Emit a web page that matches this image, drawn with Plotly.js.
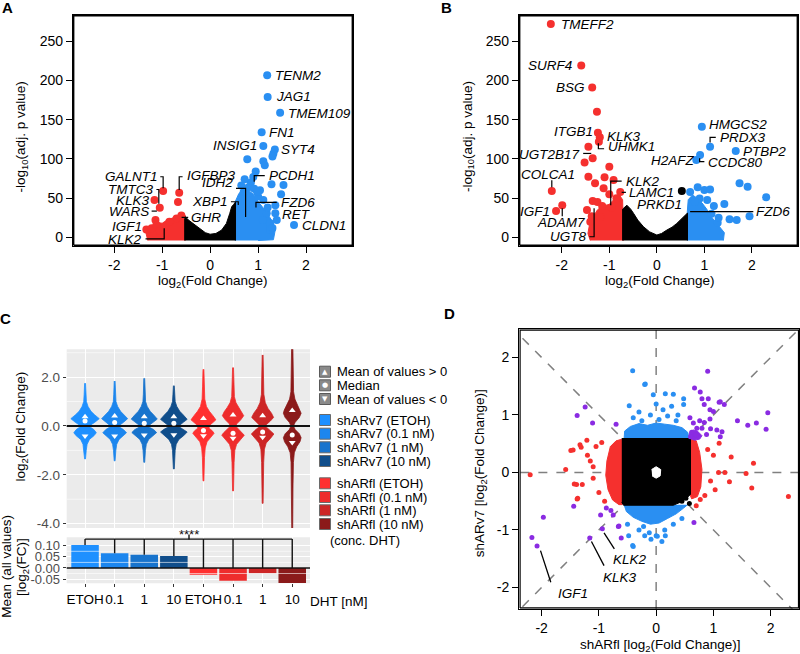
<!DOCTYPE html>
<html><head><meta charset="utf-8">
<script src="https://cdn.plot.ly/plotly-3.0.1.min.js"></script>
<style>html,body{margin:0;padding:0;background:#fff}#chart{width:800px;height:654px}</style>
</head><body><div id="chart"></div>
<script>
// ================= DATA =================
// ---- Panel A (volcano, shARv7) ----
const aUpX = [1.19,1.2,1.46,1.075,1.11,1.35,1.32,1.30,0.775,1.11,1.14,0.95,1.28,1.53,1.48,1.36,1.36,1.39,1.75,1.25,1.18,1.11,1.04,0.9,0.85,0.72,0.65,0.8,1.0,1.2,1.25,1.1,1.3,0.92,0.98,0.7];
const aUpY = [206.6,179,159,134,116.5,112,107,103,99.5,97,92,84,67.6,66.7,55,41,30.6,22,15.7,9.3,30.6,47.6,60,77,70,74,66,64,52,38,18,22,12,62,58,58];
const aDownX = [-0.98,-0.645,-0.67,-1.16,-1.05,-1.14,-1.33,-1.22,-1.12,-0.94,-1.05,-0.85,-0.7,-0.6];
const aDownY = [59,57,45,47.6,37.8,22,10,11.5,15.7,13.5,8,20,24,28];
const aBlackCloudX = [-0.53,-0.53,-0.45,-0.32,-0.21,-0.1,0,0.12,0.24,0.34,0.41,0.45,0.49,0.53,0.53];
const aBlackCloudY = [-4,27,22,16,11.5,6,4,5,9.3,17.8,30.6,39,42,45,-4];
const aRedCloudX = [-1.3,-1.34,-1.3,-1.2,-1.1,-1.0,-0.9,-0.77,-0.63,-0.52,-0.52];
const aRedCloudY = [-4,6,12,16,19,18,22,25,29,28,-4];
const aBlueCloudX = [0.52,0.52,0.6,0.7,0.8,0.9,1.0,1.1,1.2,1.3,1.36,1.32,1.0];
const aBlueCloudY = [-4,45,56,62,60,55,46,38,30,20,10,-3,-4];
const aLabText = ['TENM2','JAG1','TMEM109','FN1','INSIG1','SYT4','PCDH1','FZD6','RET','CLDN1','IDH2','XBP1','GALNT1','IGFBP3','TMTC3','KLK3','WARS','IGF1','KLK2','GHR'];
const aLabX = [1.32,1.34,1.58,1.19,1.025,1.44,1.18,1.44,1.46,1.875,0.518,0.413,-1.048,-0.526,-1.146,-1.22,-1.24,-1.376,-1.376,-0.436];
const aLabY = [206.6,179,158.5,134,116.5,112,78.6,44.6,29.7,14.8,70,45.4,77.3,78.6,61.2,47.6,33.5,13.5,-2.5,25.5];
const aLabSide = ['l','l','l','l','r','l','l','l','l','l','r','r','r','l','r','r','r','r','r','l'];
const aLeadX = [0.92,0.92,1.14,null,0.956,0.956,1.39,null,0.54,0.74,0.74,null,0.434,0.587,0.587,null,-1.04,-0.98,-0.98,null,-0.645,-0.645,-0.574,null,-1.12,-1.07,-1.07,null,-1.22,-1.11,null,-1.347,-0.958,-0.958,null,-0.595,-0.457];
const aLeadY = [71,78.6,78.6,null,38,44.6,44.6,null,62.5,62.5,26,null,45.4,45.4,41.2,null,77.3,77.3,62.5,null,60.3,77.3,77.3,null,61,61,43,null,33.5,33.5,null,-1.8,-1.8,11.5,null,25.5,25.5];

// ---- Panel B (volcano, shARfl) ----
const bDownX = [-2.23,-1.59,-1.36,-1.26,-1.24,-1.2,-1.22,-1.44,-1.35,-1.52,-1.0,-1.44,-1.10,-0.91,-1.3,-1.12,-2.21,-0.77,-1.35,-2.12,-1.99,-1.47,-1.37,-1.40,-1.19,-1.0,-0.85,-1.25,-1.15,-0.95];
const bDownY = [272,219,191,160,133.5,127.5,122,115.6,101,95.6,90,77.3,76.5,73,69,62.5,59,58,46.3,33.5,40.8,34.8,27,20,26,55,50,45,40,38];
const bUpX = [0.947,1.12,1.66,0.91,0.83,1.74,1.91,2.30,1.42,1.95,1.53,1.68,1.28,0.86,1.0,1.12,0.70,1.06,0.9,1.2,1.15,1.3,0.8];
const bUpY = [141,115.6,110,105,98.5,69,64.5,51,42.5,26.8,23,22,18.6,63.8,60.3,61,58,47.6,49.7,40,30,25,45];
const bNsX = [0.526];
const bNsY = [59];
const bBlackCloudX = [-0.72,-0.72,-0.63,-0.55,-0.49,-0.4,-0.28,-0.15,0,0.1,0.21,0.32,0.42,0.56,0.645,0.645];
const bBlackCloudY = [-4,36,41,36,30.6,22,13.5,7,3,5,9.3,13,17.8,26,31,-4];
const bRedCloudX = [-1.4,-1.45,-1.42,-1.35,-1.25,-1.15,-1.0,-0.9,-0.8,-0.72,-0.7];
const bRedCloudY = [-4,5,15,25,35,40,42,48,55,48,-4];
const bBlueCloudX = [0.64,0.64,0.66,0.75,0.85,0.95,1.05,1.15,1.3,1.42,1.4];
const bBlueCloudY = [-4,32,48,54,50,44,36,26,15,6,-4];
const bLabText = ['TMEFF2','SURF4','BSG','ITGB1','KLK3','UHMK1','UGT2B17','COLCA1','IGF1','ADAM7','UGT8','KLK2','LAMC1','PRKD1','HMGCS2','PRDX3','PTBP2','H2AFZ','CCDC80','FZD6'];
const bLabX = [-2.05,-1.74,-1.47,-1.31,-1.09,-1.07,-1.58,-2.28,-2.21,-1.47,-1.44,-0.70,-0.63,-0.457,1.05,1.28,1.77,0.84,1.04,2.05];
const bLabY = [272,219,191,134.7,128.3,115.6,105.8,80.7,33.5,18.6,0.8,71.8,57.4,42.5,144,127.5,110,98.5,95,32.7];
const bLabSide = ['l','r','r','r','l','l','r','c','r','r','r','l','l','l','l','l','l','r','l','l'];
const bLeadX = [-2.21,-2.21,null,-1.99,-1.99,null,-1.42,-1.32,-1.32,null,-1.55,-1.38,null,-1.23,-1.23,-1.11,null,-0.97,-0.97,-0.74,null,-0.74,-0.65,null,1.12,1.12,1.24,null,0.9,0.9,1.0,null,0.70,2.03];
const bLeadY = [64,72.7,null,37,27,null,0.8,0.8,37,null,107,107,null,120,113,113,null,41,71.8,71.8,null,57.4,57.4,null,121,127.5,127.5,null,101,96.5,96.5,null,32.7,32.7];

// ---- Panel C (violins + mean bars) ----
const condLabels = ['ETOH','0.1','1','10','ETOH','0.1','1','10'];
const condNames = ['shARv7 (ETOH)','shARv7 (0.1 nM)','shARv7 (1 nM)','shARv7 (10 nM)','shARfl (ETOH)','shARfl (0.1 nM)','shARfl (1 nM)','shARfl (10 nM)'];
const condColors = ['#1e90ff','#1c86ee','#1874cd','#104e8b','#ff3030','#ee2c2c','#cd2626','#8b1a1a'];
// violin outlines: [log2FC, half width]
const vio1 = [[1.75,0.015],[1.3,0.03],[1.0,0.045],[0.8,0.1],[0.6,0.2],[0.45,0.33],[0.3,0.48],[0.15,0.33],[0.03,0.18],[-0.05,0.18],[-0.15,0.3],[-0.28,0.38],[-0.4,0.3],[-0.55,0.15],[-0.75,0.07],[-1.0,0.04],[-1.35,0.015]];
const vio2 = [[1.84,0.015],[1.3,0.03],[1.0,0.045],[0.8,0.1],[0.6,0.2],[0.45,0.32],[0.3,0.44],[0.15,0.3],[0.03,0.17],[-0.05,0.17],[-0.15,0.3],[-0.28,0.4],[-0.4,0.3],[-0.55,0.15],[-0.75,0.07],[-1.0,0.04],[-1.43,0.015]];
const vio3 = [[1.95,0.015],[1.3,0.03],[1.0,0.045],[0.8,0.1],[0.6,0.2],[0.45,0.32],[0.28,0.44],[0.15,0.3],[0.03,0.17],[-0.05,0.17],[-0.15,0.32],[-0.27,0.42],[-0.4,0.3],[-0.55,0.15],[-0.75,0.07],[-1.0,0.04],[-1.49,0.015]];
const vio4 = [[1.65,0.015],[1.3,0.03],[1.0,0.045],[0.8,0.1],[0.6,0.2],[0.45,0.32],[0.27,0.45],[0.15,0.32],[0.03,0.2],[-0.05,0.2],[-0.15,0.35],[-0.25,0.45],[-0.4,0.33],[-0.55,0.17],[-0.75,0.08],[-1.0,0.045],[-1.76,0.015]];
const vio5 = [[2.32,0.015],[1.6,0.03],[1.1,0.045],[0.8,0.1],[0.6,0.2],[0.42,0.32],[0.25,0.42],[0.12,0.3],[0.0,0.18],[-0.1,0.2],[-0.2,0.3],[-0.3,0.36],[-0.45,0.26],[-0.65,0.12],[-0.9,0.06],[-1.3,0.035],[-2.25,0.015]];
const vio6 = [[2.39,0.015],[1.6,0.03],[1.2,0.045],[0.95,0.1],[0.75,0.2],[0.58,0.3],[0.42,0.36],[0.25,0.26],[0.08,0.12],[-0.02,0.1],[-0.15,0.2],[-0.28,0.32],[-0.38,0.38],[-0.55,0.26],[-0.75,0.12],[-1.0,0.06],[-1.5,0.035],[-2.66,0.015]];
const vio7 = [[2.91,0.015],[2.0,0.03],[1.3,0.04],[0.95,0.09],[0.72,0.18],[0.52,0.3],[0.35,0.37],[0.2,0.26],[0.06,0.13],[-0.04,0.12],[-0.18,0.26],[-0.33,0.38],[-0.5,0.27],[-0.7,0.12],[-0.95,0.06],[-1.5,0.035],[-3.17,0.015]];
const vio8 = [[3.3,0.02],[2.0,0.03],[1.4,0.045],[1.1,0.09],[0.85,0.18],[0.65,0.27],[0.52,0.3],[0.35,0.24],[0.15,0.1],[0.0,0.04],[-0.15,0.1],[-0.32,0.24],[-0.48,0.3],[-0.65,0.26],[-0.85,0.15],[-1.1,0.07],[-1.5,0.04],[-2.5,0.025],[-4.3,0.015]];
const vioMeanPos = [0.38,0.41,0.38,0.38,0.31,0.45,0.42,0.63];
const vioMedian = [0.2,0.14,0.11,0.11,-0.19,-0.30,-0.25,-0.37];
const vioMeanNeg = [-0.41,-0.41,-0.37,-0.36,-0.40,-0.50,-0.46,-0.68];
const barMeans = [0.103,0.066,0.060,0.054,-0.030,-0.057,-0.024,-0.068];
const vioTicks = [-4,-2,0,2];
const vioTickText = ['-4.0','-2.0','0.0','2.0'];
const vioGrid = [-3,-1,1,3];
const barTicks = [-0.05,0,0.05,0.10];
const barTickText = ['-0.05','0.00','0.05','0.10'];
const barGrid = [-0.025,0.025,0.075];
const legendStats = ['Mean of values > 0','Median','Mean of values < 0'];

// ---- Panel D (shARfl vs shARv7) ----
const dBlueX = [-0.41,-0.2,-0.47,-0.05,0.16,0.30,0.48,0.27,0,0.12,0.48,-0.19,-0.3,0.38,-0.1,0.2,-0.4,0.05,-0.25,0.35,-0.40,-0.09,0,0.16,-0.48,-0.41,0.02,-0.12,-0.22,0.15,0.3,-0.3,0.45,-0.5,0.1,-0.2];
const dBlueY = [1.77,1.53,1.16,1.35,1.37,1.36,1.28,1.15,1.19,1.09,1.18,1.54,1.05,1.0,1.0,0.98,0.95,0.92,0.9,0.9,-1.29,-1.16,-1.1,-1.1,-1.1,-1.27,-1.11,-1.05,-0.94,-1.0,-0.9,-1.0,-0.8,-0.9,-1.2,-1.1];
const dRedX = [-2.2,2.31,1.70,1.67,1.31,1.28,1.09,1.20,1.57,-1.45,-1.58,-1.43,-1.38,-1.21,-1.33,-1.31,-1.49,-1.39,-1.29,-1.37,1.1,1.03,0.77,0.70,-1.15,-1.1,-1.2,-1.05,-1.0,1.0,0.95,0.9,0.85,-1.1,-0.95,-0.9];
const dRedY = [-0.04,-0.42,0.16,-0.27,0.27,-0.16,0.0,0.0,-0.02,0.39,0.05,-0.2,-0.46,0.56,0.48,0.44,0.38,-0.21,-0.21,-0.45,0.51,-0.3,-0.47,-0.58,0.2,-0.1,0.3,0.45,-0.35,0.3,-0.15,0.4,-0.4,0.1,0.52,-0.5];
const dBothX = [-1.38,-1.24,-1.11,-0.70,-1.97,-2.17,-2.08,-1.16,-0.94,-0.66,-0.61,-1.44,-0.97,-0.87,-0.79,-0.75,-0.65,1.95,1.92,1.75,1.6,1.42,0.90,0.67,0.77,0.80,0.91,1.10,1.19,1.12,0.84,0.94,1.0,0.94,0.59,0.65,0.76,0.84,0.71,0.80,0.95,1.06,1.15,1.12,0.88,0.66,0.62,0.7,0.6];
const dBothY = [0.99,1.14,0.86,0.84,-0.78,-1.13,-1.28,-1.14,-0.98,-0.94,-1.14,-0.59,-0.74,-0.62,-0.66,-0.74,-0.93,1.04,0.75,0.86,0.82,0.9,1.76,1.47,1.40,1.28,1.28,1.22,1.18,1.23,1.18,1.09,1.06,0.93,0.95,0.86,0.9,0.87,0.77,0.77,0.76,0.74,0.71,0.62,0.66,-0.87,0.7,0.65,0.62];
const dNsX = [0.58,0.48,0.45,0.52];
const dNsY = [-0.54,-0.36,-0.5,-0.45];
const dNsCloudX = [-0.6,0.6,0.6,0.52,0.42,0.3,-0.57,-0.6];
const dNsCloudY = [0.59,0.59,-0.38,-0.46,-0.52,-0.57,-0.57,-0.52];
const dHoleX = [-0.08,0.0,0.08,0.07,0.0,-0.07];
const dHoleY = [0.05,0.1,0.05,-0.06,-0.1,-0.06];
const dBlueTopX = [-0.56,-0.55,-0.45,-0.3,-0.15,0,0.15,0.3,0.45,0.55,0.58];
const dBlueTopY = [0.58,0.72,0.8,0.85,0.82,0.86,0.84,0.82,0.78,0.7,0.58];
const dBlueBotX = [-0.56,-0.52,-0.4,-0.25,-0.1,0.05,0.2,0.35,0.48,0.55];
const dBlueBotY = [-0.56,-0.68,-0.78,-0.85,-0.9,-0.88,-0.8,-0.72,-0.62,-0.56];
const dRedLeftX = [-0.59,-0.7,-0.8,-0.86,-0.88,-0.84,-0.76,-0.65,-0.59];
const dRedLeftY = [0.58,0.55,0.45,0.2,-0.05,-0.3,-0.48,-0.56,-0.56];
const dRedRightX = [0.59,0.7,0.76,0.8,0.78,0.72,0.62,0.59];
const dRedRightY = [0.58,0.55,0.35,0.05,-0.25,-0.42,-0.46,-0.38];
const dBothCornerX = [0.58,0.58,0.64,0.72,0.8,0.76,0.66];
const dBothCornerY = [0.58,0.68,0.74,0.72,0.64,0.58,0.56];
const dRefSpan = [-3,3];
const dZero = [0,0];
const dLabText = ['IGF1','KLK3','KLK2'];
const dLabX = [-1.45,-0.63,-0.45];
const dLabY = [-2.1,-1.83,-1.52];
const dLeadX = [-2.02,-1.84,null,-1.13,-0.91,null,-0.91,-0.73];
const dLeadY = [-1.36,-1.91,null,-1.2,-1.62,null,-1.05,-1.33];
const ticksFC = [-2,-1,0,1,2];
const ticksFCText = ['-2','-1','0','1','2'];
const ticksP = [0,50,100,150,200,250];

// ================= BUILD =================
const W = 800, H = 654;
const px = v => v / W, py = v => 1 - v / H;
const FONT = 'Liberation Sans';
const BLUE = '#2a8ff2', RED = '#f5302e', PURPLE = '#8a2be2';
const traces = [];
const annotations = [];
const shapes = [];

function cloud(x, y, color, xa, ya) {
  traces.push({type:'scatter', mode:'lines', x:x, y:y, fill:'toself', fillcolor:color,
    line:{color:color, width:1}, xaxis:xa, yaxis:ya, hoverinfo:'skip', showlegend:false});
}
function points(x, y, color, size, xa, ya) {
  traces.push({type:'scatter', mode:'markers', x:x, y:y, marker:{color:color, size:size},
    xaxis:xa, yaxis:ya, hoverinfo:'skip', showlegend:false});
}
function leaders(x, y, xa, ya, w) {
  traces.push({type:'scatter', mode:'lines', x:x, y:y, line:{color:'#000', width:w||1.2},
    xaxis:xa, yaxis:ya, hoverinfo:'skip', showlegend:false});
}
function labels(text, x, y, side, xa, ya) {
  text.forEach((t, i) => annotations.push({text:'<i>' + t + '</i>', x:x[i], y:y[i], xref:xa, yref:ya,
    showarrow:false, xanchor: side[i] === 'l' ? 'left' : (side[i] === 'r' ? 'right' : 'center'),
    yanchor:'middle', font:{family:FONT, size:13.5, color:'#000'}}));
}
function note(text, x, y, opts) {
  annotations.push(Object.assign({text:text, x:px(x), y:py(y), xref:'paper', yref:'paper',
    showarrow:false, xanchor:'center', yanchor:'middle', font:{family:FONT, size:13.5, color:'#000'}}, opts || {}));
}
function hline(xa, ya, vals, color, width) {
  const xs = [], ys = [];
  vals.forEach(v => { xs.push(-10, 10, null); ys.push(v, v, null); });
  traces.push({type:'scatter', mode:'lines', x:xs, y:ys, xaxis:xa, yaxis:ya,
    line:{color:color, width:width}, hoverinfo:'skip', showlegend:false});
}

// Panel A
cloud(aRedCloudX, aRedCloudY, RED, 'x', 'y');
cloud(aBlueCloudX, aBlueCloudY, BLUE, 'x', 'y');
cloud(aBlackCloudX, aBlackCloudY, '#000', 'x', 'y');
points(aUpX, aUpY, BLUE, 8, 'x', 'y');
points(aDownX, aDownY, RED, 8, 'x', 'y');
leaders(aLeadX, aLeadY, 'x', 'y');
labels(aLabText, aLabX, aLabY, aLabSide, 'x', 'y');

// Panel B
cloud(bRedCloudX, bRedCloudY, RED, 'x2', 'y2');
cloud(bBlueCloudX, bBlueCloudY, BLUE, 'x2', 'y2');
cloud(bBlackCloudX, bBlackCloudY, '#000', 'x2', 'y2');
points(bUpX, bUpY, BLUE, 8, 'x2', 'y2');
points(bDownX, bDownY, RED, 8, 'x2', 'y2');
points(bNsX, bNsY, '#000', 8, 'x2', 'y2');
leaders(bLeadX, bLeadY, 'x2', 'y2');
labels(bLabText, bLabX, bLabY, bLabSide, 'x2', 'y2');

// Panel C
hline('x3', 'y3', vioGrid, '#fff', 0.6);
hline('x4', 'y4', barGrid, '#fff', 0.6);
const vios = [vio1, vio2, vio3, vio4, vio5, vio6, vio7, vio8];
vios.forEach((prof, i) => {
  const xs = [], ys = [];
  prof.forEach(p => { xs.push(i + p[1]); ys.push(p[0]); });
  prof.slice().reverse().forEach(p => { xs.push(i - p[1]); ys.push(p[0]); });
  traces.push({type:'scatter', mode:'lines', x:xs, y:ys, fill:'toself', fillcolor:condColors[i],
    line:{color:condColors[i], width:0.8}, xaxis:'x3', yaxis:'y3', hoverinfo:'skip', showlegend:false});
});
hline('x3', 'y3', [0], '#111', 2);
const cats = condLabels.map((_, i) => i);
traces.push({type:'scatter', mode:'markers', x:cats, y:vioMeanPos, xaxis:'x3', yaxis:'y3',
  marker:{symbol:'triangle-up', size:6, color:'#fff'}, hoverinfo:'skip', showlegend:false});
traces.push({type:'scatter', mode:'markers', x:cats, y:vioMedian, xaxis:'x3', yaxis:'y3',
  marker:{symbol:'circle', size:5, color:'#fff'}, hoverinfo:'skip', showlegend:false});
traces.push({type:'scatter', mode:'markers', x:cats, y:vioMeanNeg, xaxis:'x3', yaxis:'y3',
  marker:{symbol:'triangle-down', size:6, color:'#fff'}, hoverinfo:'skip', showlegend:false});
traces.push({type:'bar', x:cats, y:barMeans, width:0.93, xaxis:'x4', yaxis:'y4',
  marker:{color:condColors}, hoverinfo:'skip', showlegend:false});
hline('x4', 'y4', [0], '#111', 1.6);
const bracketLevel = 0.13;
const brX = [cats[0], cats[cats.length - 1], null], brY = [bracketLevel, bracketLevel, null];
barMeans.forEach((v, i) => { brX.push(i, i, null); brY.push(bracketLevel, Math.max(v, 0), null); });
traces.push({type:'scatter', mode:'lines', x:brX, y:brY, xaxis:'x4', yaxis:'y4',
  line:{color:'#111', width:1.4}, hoverinfo:'skip', showlegend:false});

// Panel D
[[dRefSpan, dZero], [dZero, dRefSpan], [dRefSpan, dRefSpan], [dRefSpan, dRefSpan.slice().reverse()]].forEach(l => {
  traces.push({type:'scatter', mode:'lines', x:l[0], y:l[1], xaxis:'x5', yaxis:'y5',
    line:{color:'#808080', width:1.5, dash:'dash'}, hoverinfo:'skip', showlegend:false});
});
cloud(dRedLeftX, dRedLeftY, RED, 'x5', 'y5');
cloud(dRedRightX, dRedRightY, RED, 'x5', 'y5');
cloud(dBlueTopX, dBlueTopY, BLUE, 'x5', 'y5');
cloud(dBlueBotX, dBlueBotY, BLUE, 'x5', 'y5');
cloud(dBothCornerX, dBothCornerY, PURPLE, 'x5', 'y5');
cloud(dNsCloudX, dNsCloudY, '#000', 'x5', 'y5');
cloud(dHoleX, dHoleY, '#fff', 'x5', 'y5');
points(dBlueX, dBlueY, BLUE, 5, 'x5', 'y5');
points(dRedX, dRedY, RED, 5, 'x5', 'y5');
points(dBothX, dBothY, PURPLE, 5, 'x5', 'y5');
points(dNsX, dNsY, '#000', 5, 'x5', 'y5');
leaders(dLeadX, dLeadY, 'x5', 'y5', 1.3);
labels(dLabText, dLabX, dLabY, ['c','c','c'], 'x5', 'y5');

const boxAxis = (domain, range, vals, text, extra) => Object.assign({
  domain:domain, range:range, tickvals:vals, ticktext:text, showline:true, mirror:true,
  linecolor:'#000', linewidth:1.4, ticks:'outside', ticklen:6, tickwidth:1.4, tickcolor:'#000',
  showgrid:false, zeroline:false,
  tickfont:{family:FONT, size:14, color:'#000'}}, extra || {});

const layout = {
  width:W, height:H, margin:{l:0, r:0, t:0, b:0},
  showlegend:false,
  xaxis: boxAxis([px(73), px(353)], [-2.86, 2.98], ticksFC, ticksFCText, {anchor:'y'}),
  yaxis: boxAxis([py(246), py(15)], [-11, 283.5], ticksP, ticksP.map(String), {anchor:'x'}),
  xaxis2: boxAxis([px(519), px(798)], [-2.9, 2.97], ticksFC, ticksFCText, {anchor:'y2'}),
  yaxis2: boxAxis([py(246), py(15)], [-11, 283.5], ticksP, ticksP.map(String), {anchor:'x2'}),
  xaxis3: {domain:[px(66.7), px(310)], range:[-0.62, 7.6], anchor:'y3', tickvals:cats, showticklabels:false,
    ticks:'', showgrid:true, gridcolor:'#fff', gridwidth:1.3, zeroline:false, showline:false},
  yaxis3: {domain:[py(528), py(349.3)], range:[-4.18, 3.14], anchor:'x3', tickvals:vioTicks, ticktext:vioTickText,
    ticks:'outside', ticklen:3, tickcolor:'#333', tickwidth:1, showgrid:true, gridcolor:'#fff', gridwidth:1.3,
    zeroline:false, showline:false,
    tickfont:{family:FONT, size:13.5, color:'#4d4d4d'}},
  xaxis4: {domain:[px(66.7), px(310)], range:[-0.62, 7.6], anchor:'y4', tickvals:cats, ticktext:condLabels,
    tickangle:0, ticks:'outside', ticklen:3, tickcolor:'#333', tickwidth:1.2,
    showgrid:true, gridcolor:'#fff', gridwidth:1.3, zeroline:false, showline:false,
    tickfont:{family:FONT, size:13.5, color:'#000'}},
  yaxis4: {domain:[py(583.3), py(537.3)], range:[-0.069, 0.138], anchor:'x4', tickvals:barTicks, ticktext:barTickText,
    ticks:'outside', ticklen:3, tickcolor:'#333', tickwidth:1, showgrid:true, gridcolor:'#fff', gridwidth:1.3,
    zeroline:false, showline:false,
    tickfont:{family:FONT, size:13, color:'#4d4d4d'}},
  xaxis5: boxAxis([px(519.3), px(799.3)], [-2.39, 2.5], ticksFC, ticksFCText, {anchor:'y5'}),
  yaxis5: boxAxis([py(608.7), py(329.3)], [-2.37, 2.49], ticksFC, ticksFCText, {anchor:'x5'}),
  annotations:annotations, shapes:shapes
};

// Panel frame and outward tick marks, drawn as traces on each panel's own axes
function frame(xName, yName, xId, yId) {
  const xa = layout[xName], ya = layout[yName];
  const dx = (xa.range[1] - xa.range[0]) / ((xa.domain[1] - xa.domain[0]) * W);
  const dy = (ya.range[1] - ya.range[0]) / ((ya.domain[1] - ya.domain[0]) * H);
  const x0 = xa.range[0] + 0.7 * dx, x1 = xa.range[1] - 0.7 * dx;
  const y0 = ya.range[0] + 0.7 * dy, y1 = ya.range[1] - 0.7 * dy;
  traces.push({type:'scatter', mode:'lines', x:[x0, x1, x1, x0, x0], y:[y0, y0, y1, y1, y0],
    xaxis:xId, yaxis:yId, line:{color:'#000', width:1.4}, hoverinfo:'skip', showlegend:false});
  traces.push({type:'scatter', mode:'markers', x:xa.tickvals, y:xa.tickvals.map(() => ya.range[0] - 3 * dy),
    xaxis:xId, yaxis:yId, cliponaxis:false,
    marker:{symbol:'line-ns', size:6, color:'#000', line:{color:'#000', width:1.4}}, hoverinfo:'skip', showlegend:false});
  traces.push({type:'scatter', mode:'markers', x:ya.tickvals.map(() => xa.range[0] - 3 * dx), y:ya.tickvals,
    xaxis:xId, yaxis:yId, cliponaxis:false,
    marker:{symbol:'line-ew', size:6, color:'#000', line:{color:'#000', width:1.4}}, hoverinfo:'skip', showlegend:false});
}
frame('xaxis', 'yaxis', 'x', 'y');
frame('xaxis2', 'yaxis2', 'x2', 'y2');
frame('xaxis5', 'yaxis5', 'x5', 'y5');

[['x3', 'y3'], ['x4', 'y4']].forEach(r => {
  shapes.push({type:'rect', xref:r[0] + ' domain', yref:r[1] + ' domain', x0:0, x1:1, y0:0, y1:1,
    fillcolor:'#ebebeb', line:{width:0}, layer:'below'});
});
shapes.push({type:'line', xref:'paper', yref:'paper', x0:px(189), x1:px(189), y0:py(539.5), y1:py(534.5), line:{color:'#111', width:1.4}});

note('-log<sub>10</sub>(adj. p value)', 21.7, 136.7, {textangle:-90});
note('log<sub>2</sub>(Fold Change)', 213, 281.7);
note('-log<sub>10</sub>(adj. p value)', 468.3, 136.7, {textangle:-90});
note('log<sub>2</sub>(Fold Change)', 660, 281.7);
note('log<sub>2</sub>(Fold Change)', 21.7, 426.7, {textangle:-90});
note('Mean (all values)', 7, 566.7, {textangle:-90});
note('[log<sub>2</sub>(FC)]', 22, 567, {textangle:-90});
note('DHT [nM]', 339, 601.7);
note('****', 189, 534.5, {font:{family:FONT, size:13, color:'#111'}});
note('shARfl [log<sub>2</sub>(Fold Change)]', 660, 645.7);
note('shARv7 [log<sub>2</sub>(Fold Change)]', 480, 473.3, {textangle:-90});
[['A', 7.5, 7], ['B', 446.5, 7], ['C', 5.5, 318.5], ['D', 449, 313]].forEach(l =>
  note('<b>' + l[0] + '</b>', l[1], l[2], {font:{family:FONT, size:15, color:'#000'}}));

const statY = [371.7, 385.3, 399];
const statSym = ['▲', '●', '▼'];
legendStats.forEach((t, i) => {
  shapes.push({type:'rect', xref:'paper', yref:'paper', x0:px(319.5), x1:px(330.5), y0:py(statY[i] + 5.5), y1:py(statY[i] - 5.5),
    fillcolor:'#8a8a8a', line:{color:'#5a5a5a', width:1}});
  note(statSym[i], 325, statY[i], {font:{family:'DejaVu Sans', size:7, color:'#fff'}});
  note(t, 335, statY[i], {xanchor:'left', font:{family:FONT, size:13, color:'#000'}});
});
const keyY = [420, 433.7, 447.3, 461, 483.3, 497, 510.3, 524];
condNames.forEach((t, i) => {
  shapes.push({type:'rect', xref:'paper', yref:'paper', x0:px(319.5), x1:px(330.5), y0:py(keyY[i] + 5.5), y1:py(keyY[i] - 5.5),
    fillcolor:condColors[i], line:{color:'#6a6a6a', width:1}});
  note(t, 335, keyY[i], {xanchor:'left', font:{family:FONT, size:13, color:'#000'}});
});
note('(conc. DHT)', 365, 540.7, {font:{family:FONT, size:13, color:'#000'}});

Plotly.newPlot('chart', traces, layout, {displayModeBar:false});
</script></body></html>
